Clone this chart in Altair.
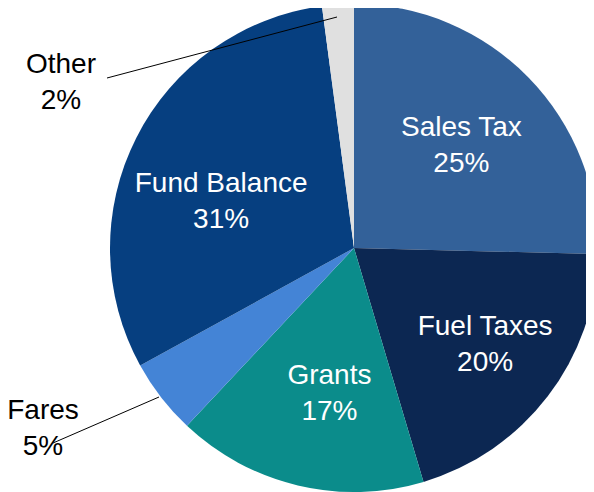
import altair as alt
import pandas as pd

# ---- data ----
categories = ["Sales Tax", "Fuel Taxes", "Grants", "Fares", "Fund Balance", "Other"]
shares = [25.4, 20.0, 16.6, 5.0, 30.9, 2.1]
colors = ["#336199", "#0c2752", "#0b8c8b", "#4484d6", "#063f80", "#e0e0e0"]

df = pd.DataFrame({
    "category": categories,
    "share": shares,
    "idx": list(range(len(categories))),
})
df["label"] = df.apply(lambda r: f"{r['category']}\n{round(r['share']):.0f}%", axis=1)

# ---- layout ----
W, H = 578, 484
CX, CY, R = 346, 240, 244
FONT = "Liberation Sans, Arial, sans-serif"
FS = 28
LH = 36
SHIFT = -17  # multi-line text block centring

# inside label placement: (radius, dx, dy)
inner = {
    "Sales Tax": (150, 0, 2 + SHIFT),
    "Fuel Taxes": (150, 12, 5 + SHIFT),
    "Grants": (150, 10, -1 + SHIFT),
    "Fund Balance": (150, 1, 21 + SHIFT),
}
# outside labels: (x, y) and leader lines (x1, y1, x2, y2)
outer = {
    "Other": ((53, 74 + SHIFT), (99, 70, 329, 9)),
    "Fares": ((35, 420 + SHIFT), (45, 435, 151, 389)),
}

base = alt.Chart(df).encode(
    theta=alt.Theta("share:Q", stack=True),
    order=alt.Order("idx:Q"),
    color=alt.Color("category:N", scale=alt.Scale(domain=categories, range=colors), legend=None),
)

pie = base.mark_arc(outerRadius=R).encode(
    x=alt.value(CX), y=alt.value(CY)
)

layers = [pie]
for cat, (rad, dx, dy) in inner.items():
    layers.append(
        alt.Chart(df).mark_text(
            radius=rad, dx=dx, dy=dy, font=FONT, fontSize=FS, color="white",
            lineBreak="\n", lineHeight=LH, align="center", baseline="middle",
        ).encode(
            theta=alt.Theta("share:Q", stack=True),
            order=alt.Order("idx:Q"),
            text="label:N",
            opacity=alt.condition(alt.datum.category == cat, alt.value(1), alt.value(0)),
            x=alt.value(CX), y=alt.value(CY),
        )
    )

for cat, ((tx, ty), (x1, y1, x2, y2)) in outer.items():
    sub = alt.Chart(df).transform_filter(alt.datum.category == cat)
    layers.append(
        sub.mark_rule(color="black", strokeWidth=1).encode(
            x=alt.value(x1), y=alt.value(y1), x2=alt.value(x2), y2=alt.value(y2)
        )
    )
    layers.append(
        sub.mark_text(
            font=FONT, fontSize=FS, color="black", lineBreak="\n", lineHeight=LH,
            align="center", baseline="middle",
        ).encode(text="label:N", x=alt.value(tx), y=alt.value(ty))
    )

chart = alt.layer(*layers).properties(
    width=W, height=H, autosize=alt.AutoSizeParams(type="none"), padding=0
).configure_view(stroke=None)

chart.save("out.html", embed_options={"renderer": "svg", "actions": False})
